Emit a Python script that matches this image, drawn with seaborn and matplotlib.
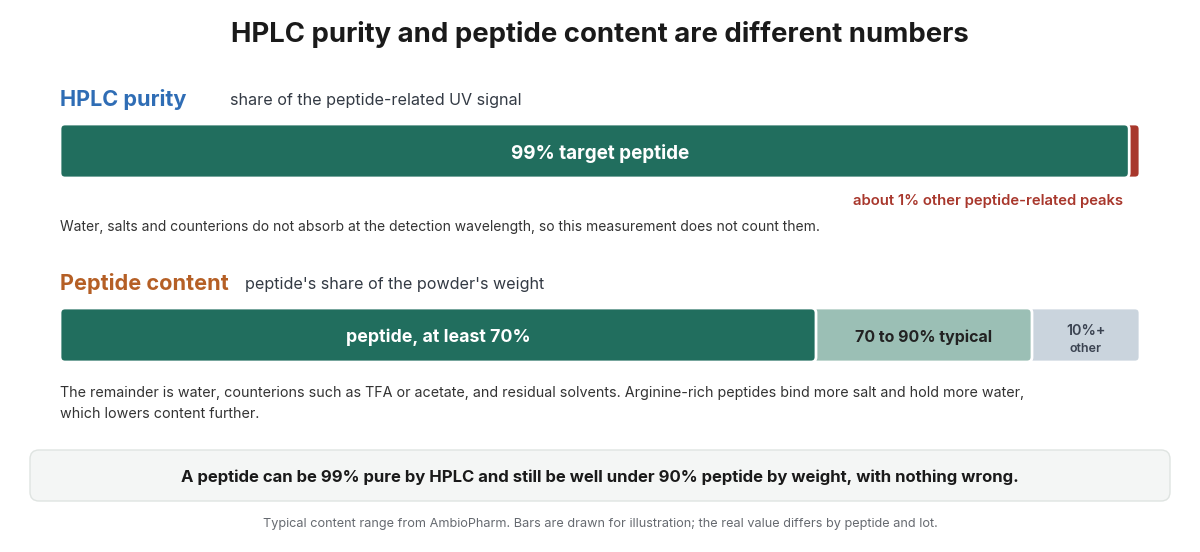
import matplotlib
matplotlib.use("Agg")
import matplotlib.pyplot as plt
from matplotlib.patches import FancyBboxPatch
import seaborn as sns

# data
purity_labels = ["99% target peptide", "about 1% other peptide-related peaks"]
purity_values = [99, 1]
purity_colors = ["#216e5e", "#a8372c"]

content_labels = ["peptide, at least 70%", "70 to 90% typical", "10%+"]
content_values = [70, 20, 10]
content_colors = ["#216e5e", "#9bbfb5", "#cad4dd"]

W, H = 1200, 552

sns.set_theme(style="white")
plt.rcParams["font.family"] = ["Inter", "DejaVu Sans"]

fig = plt.figure(figsize=(W / 100, H / 100), dpi=100)
fig.patch.set_facecolor("white")

# full-figure axes for text, in pixel coords
tx = fig.add_axes([0, 0, 1, 1])
tx.set_xlim(0, W)
tx.set_ylim(H, 0)
tx.axis("off")


def bar_axes(top, bottom):
    ax = fig.add_axes([60 / W, 1 - bottom / H, 1080 / W, (bottom - top) / H])
    return ax


def stacked_bar(ax, values, colors, row):
    # draw cumulative bars largest first so each segment sits on the next
    cum = []
    s = 0
    for v in values:
        s += v
        cum.append(s)
    for total, col in reversed(list(zip(cum, colors))):
        sns.barplot(x=[total], y=[row], color=col, width=1.0, orient="h",
                    saturation=1, ax=ax)
    ax.set_xlim(0, 100)
    ax.set_ylim(0.5, -0.5)
    ax.axis("off")
    # swap plain rectangles for rounded ones
    px_x = 100 / 1080
    ax_h_px = ax.get_position().height * H
    px_y = 1.0 / ax_h_px
    rects = list(ax.patches)
    for p in rects:
        x0, y0 = p.get_x(), p.get_y()
        w, h = p.get_width(), p.get_height()
        fc = p.get_facecolor()
        p.remove()
        rp = FancyBboxPatch((x0, y0), w, h,
                            boxstyle=f"round,pad=0,rounding_size={5 * px_x}",
                            mutation_aspect=px_y / px_x,
                            facecolor=fc, edgecolor="white", linewidth=2,
                            zorder=3)
        ax.add_patch(rp)
    return cum


# title
tx.text(600, 35, "HPLC purity and peptide content are different numbers",
        ha="center", va="center", fontsize=19.8, fontweight="bold", color="#1a1a1a")

# --- HPLC purity
tx.text(60, 99, "HPLC purity", ha="left", va="center", fontsize=15.6,
        fontweight="bold", color="#2f6db5")
tx.text(230, 100, "share of the peptide-related UV signal", ha="left",
        va="center", fontsize=11.6, color="#333a44")

ax1 = bar_axes(124, 178)
cum1 = stacked_bar(ax1, purity_values, purity_colors, "purity")
ax1.text(cum1[0] / 2 + 0.5, 0.05, purity_labels[0], ha="center", va="center",
         fontsize=13.6, fontweight="bold", color="white", zorder=5)

tx.text(1123, 201, purity_labels[1], ha="right", va="center", fontsize=10.7,
        fontweight="semibold", color="#a8372c")
tx.text(60, 227, "Water, salts and counterions do not absorb at the detection "
        "wavelength, so this measurement does not count them.",
        ha="left", va="center", fontsize=10, color="#333333")

# --- Peptide content
tx.text(60, 283, "Peptide content", ha="left", va="center", fontsize=15.6,
        fontweight="bold", color="#b55f25")
tx.text(245, 284, "peptide's share of the powder's weight", ha="left",
        va="center", fontsize=11.6, color="#333a44")

ax2 = bar_axes(308, 362)
cum2 = stacked_bar(ax2, content_values, content_colors, "content")
starts = [0] + cum2[:-1]
mids = [(a + b) / 2 for a, b in zip(starts, cum2)]
ax2.text(mids[0], 0.04, content_labels[0], ha="center", va="center",
         fontsize=12.8, fontweight="bold", color="white", zorder=5)
ax2.text(mids[1], 0.04, content_labels[1], ha="center", va="center",
         fontsize=11.5, fontweight="bold", color="#222222", zorder=5)
ax2.text(mids[2], -0.07, content_labels[2], ha="center", va="center",
         fontsize=10.3, fontweight="semibold", color="#3a4250", zorder=5)
ax2.text(mids[2], 0.26, "other", ha="center", va="center",
         fontsize=9, fontweight="semibold", color="#3a4250", zorder=5)

tx.text(60, 393, "The remainder is water, counterions such as TFA or acetate, "
        "and residual solvents. Arginine-rich peptides bind more salt and hold "
        "more water,", ha="left", va="center", fontsize=10.3, color="#333333")
tx.text(60, 414, "which lowers content further.", ha="left", va="center",
        fontsize=10.3, color="#333333")

# callout box
box = FancyBboxPatch((30, 450), 1140, 51,
                     boxstyle="round,pad=0,rounding_size=9",
                     facecolor="#f4f6f5", edgecolor="#dfe4e1", linewidth=1)
tx.add_patch(box)
tx.text(600, 477, "A peptide can be 99% pure by HPLC and still be well under "
        "90% peptide by weight, with nothing wrong.", ha="center",
        va="center", fontsize=12, fontweight="bold", color="#1a1a1a")

tx.text(600, 524, "Typical content range from AmbioPharm. Bars are drawn for "
        "illustration; the real value differs by peptide and lot.",
        ha="center", va="center", fontsize=9.15, color="#666a70")

fig.savefig("out.png", dpi=100, facecolor="white")
